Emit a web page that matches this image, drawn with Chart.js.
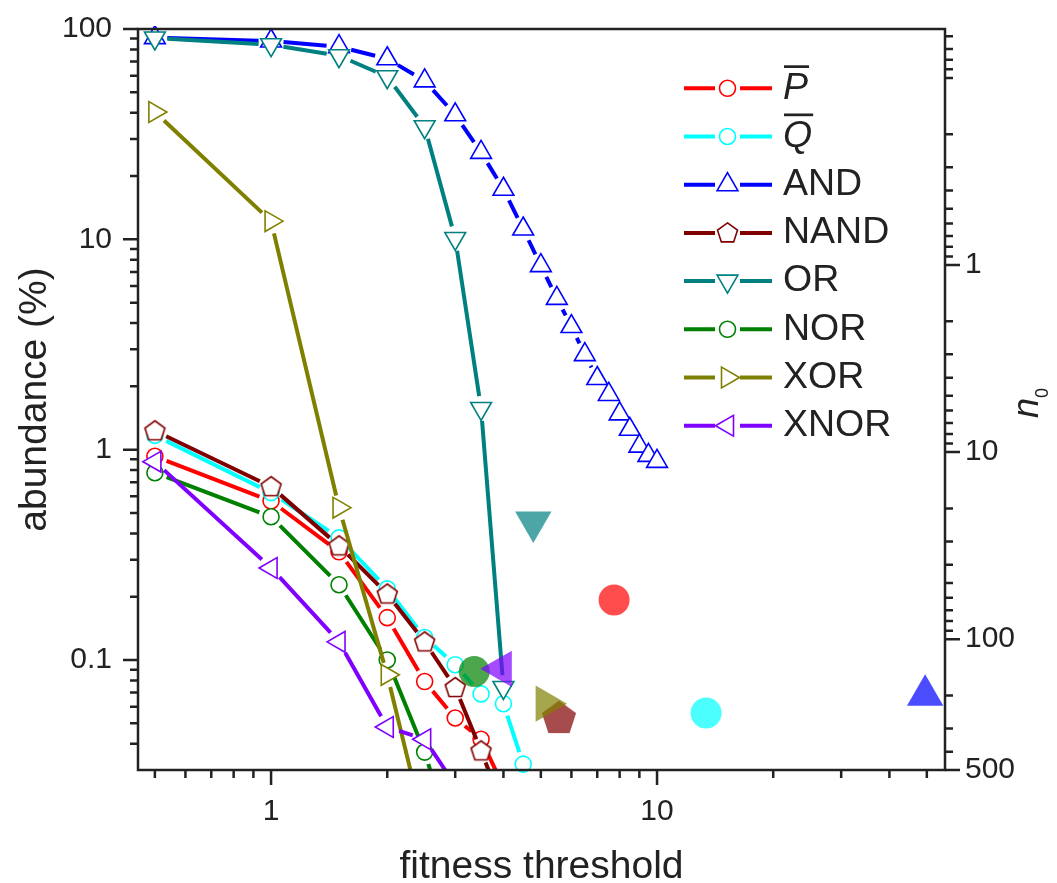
<!DOCTYPE html>
<html lang="en">
<head>
<meta charset="utf-8">
<title>abundance vs fitness threshold</title>
<script src="https://cdn.jsdelivr.net/npm/chart.js@4.4.1/dist/chart.umd.min.js"></script>
<style>
  html, body { margin: 0; padding: 0; background: #fff; }
  #grafico { display: block; }
</style>
</head>
<body>
<canvas id="grafico" width="1057" height="883"></canvas>
<script>
// abundancia (%) de cada función lógica según el umbral de fitness
const funciones = ['P\u0305', 'Q\u0305', 'AND', 'NAND', 'OR', 'NOR', 'XOR', 'XNOR'];
const umbral = [0.5, 1, 1.5, 2, 2.5, 3, 3.5, 4, 4.5, 5, 5.5, 6, 6.5, 7, 7.5, 8, 8.5, 9, 9.5, 10];

const abundP    = [0.93, 0.57, 0.327, 0.159, 0.079, 0.053, 0.042, 0.025];
const abundQ    = [1.17, 0.625, 0.381, 0.218, 0.128, 0.095, 0.069, 0.062, 0.032];
const abundAND  = [91, 87.7, 82.4, 72.2, 56.7, 39.1, 25.9, 17.3, 11.2, 7.5, 5.24, 3.85, 2.83, 2.18, 1.83, 1.48, 1.25, 1.04, 0.94, 0.88];
const abundNAND = [1.23, 0.667, 0.349, 0.206, 0.122, 0.074, 0.037, 0.0197];
const abundOR   = [90.6, 84.2, 74.6, 59.3, 34.3, 10.1, 1.57, 0.074];
const abundNOR  = [0.777, 0.48, 0.228, 0.1, 0.0365, 0.0123];
const abundXOR  = [40.3, 12.2, 0.53, 0.085, 0.0158];
const abundXNOR = [0.877, 0.274, 0.122, 0.048, 0.042, 0.0254];

// n0 de cada función (eje derecho) y el umbral donde se marca
const umbralN0  = [7.74, 13.4, 49.5, 5.57, 4.78, 3.36, 5.16, 3.95];
const valoresN0 = [61.7, 248, 199, 264, 23.6, 149, 221, 144];

// marcas con etiqueta
const marcasX  = [1, 10];
const marcasY  = [0.1, 1, 10, 100];
const marcasN0 = [1, 10, 100, 500];

const FUENTE = "'Liberation Sans', Arial, Helvetica, sans-serif";
const TEXTO = '#222';
const colores = ['#ff0000', '#00ffff', '#0000ff', '#800000', '#008080', '#008000', '#808000', '#8000ff'];
const formas  = ['circle', 'circle', 'triangle', 'pentagon', 'triangle', 'circle', 'triangle', 'triangle'];
const giros   = [0, 0, 0, 0, 180, 0, 90, 270];
const RADIO = {circle: 8, triangle: 12, pentagon: 10.5};
const RADIO_GRANDE = {circle: 15.5, triangle: 21, pentagon: 18};
const GROSOR = 4;      // grosor de las líneas
const HUECO = 12.5;    // espacio entre línea y símbolo

function translucido(hex) {
  const n = parseInt(hex.slice(1), 16);
  return `rgba(${n >> 16}, ${(n >> 8) & 255}, ${n & 255}, 0.7)`;
}

function trazarForma(ctx, forma, x, y, r, giro) {
  ctx.beginPath();
  if (forma === 'circle') { ctx.arc(x, y, r, 0, Math.PI * 2); return; }
  const lados = forma === 'pentagon' ? 5 : 3;
  for (let k = 0; k < lados; k++) {
    const ang = (giro + k * 360 / lados) * Math.PI / 180;
    const px = x + Math.sin(ang) * r, py = y - Math.cos(ang) * r;
    if (k) ctx.lineTo(px, py); else ctx.moveTo(px, py);
  }
  ctx.closePath();
}

// Chart.js no trae pentágono: se pasa como lienzo
function pentagono(r, borde, relleno, grosor) {
  const c = document.createElement('canvas');
  const lado = Math.ceil(2 * r + grosor + 4);
  c.width = c.height = lado;
  const g = c.getContext('2d');
  trazarForma(g, 'pentagon', lado / 2, lado / 2 + 0.5, r, 0);
  if (relleno) { g.fillStyle = relleno; g.fill(); }
  if (borde) { g.strokeStyle = borde; g.lineWidth = grosor; g.stroke(); }
  return c;
}

const abundancias = [abundP, abundQ, abundAND, abundNAND, abundOR, abundNOR, abundXOR, abundXNOR];

const datasets = funciones.map((nombre, i) => ({
  label: nombre,
  data: abundancias[i].map((v, j) => ({x: umbral[j], y: v})),
  yAxisID: 'y',
  showLine: false,
  hueco: HUECO,
  borderColor: colores[i],
  pointStyle: formas[i] === 'pentagon' ? pentagono(RADIO.pentagon, colores[i], '#fff', 1.6) : formas[i],
  pointRotation: giros[i],
  pointRadius: RADIO[formas[i]],
  pointBorderWidth: 1.6,
  pointBorderColor: colores[i],
  pointBackgroundColor: '#fff',
  clip: 3,
  order: -i
}));

datasets.push({
  label: 'n0',
  data: valoresN0.map((v, i) => ({x: umbralN0[i], y: v})),
  yAxisID: 'y2',
  showLine: false,
  pointStyle: formas.map((f, i) => f === 'pentagon' ? pentagono(RADIO_GRANDE.pentagon, null, translucido(colores[i]), 0) : f),
  pointRotation: giros,
  pointRadius: formas.map(f => RADIO_GRANDE[f]),
  pointBorderWidth: 0,
  pointBackgroundColor: colores.map(translucido),
  clip: false,
  order: -10
});

// líneas que se cortan antes de llegar a cada símbolo
const lineasConHueco = {
  id: 'lineasConHueco',
  beforeDatasetDraw(chart, args) {
    const ds = chart.data.datasets[args.index];
    if (!ds.hueco) return;
    const pts = args.meta.data;
    const {ctx, chartArea: a} = chart;
    ctx.save();
    ctx.beginPath();
    ctx.rect(a.left, a.top, a.right - a.left, a.bottom - a.top);
    ctx.clip();
    ctx.strokeStyle = ds.borderColor;
    ctx.lineWidth = GROSOR;
    ctx.beginPath();
    for (let i = 1; i < pts.length; i++) {
      const p = pts[i - 1], q = pts[i];
      const dx = q.x - p.x, dy = q.y - p.y, d = Math.hypot(dx, dy);
      if (d <= 2 * ds.hueco) continue;
      const ux = dx / d, uy = dy / d;
      ctx.moveTo(p.x + ux * ds.hueco, p.y + uy * ds.hueco);
      ctx.lineTo(q.x - ux * ds.hueco, q.y - uy * ds.hueco);
    }
    ctx.stroke();
    ctx.restore();
  }
};

function marcasMenores(min, max) {
  const v = [];
  for (let e = Math.floor(Math.log10(min)); e <= Math.ceil(Math.log10(max)); e++) {
    for (let m = 1; m <= 9; m++) {
      const val = m * Math.pow(10, e);
      if (val > min * 1.0001 && val < max * 0.9999) v.push(val);
    }
  }
  return v;
}

// marco, marcas de los ejes, títulos y leyenda
const decorado = {
  id: 'decorado',
  afterDraw(chart) {
    const {ctx, chartArea: a} = chart;
    const {x, y, y2} = chart.scales;
    ctx.save();
    ctx.strokeStyle = TEXTO;
    ctx.lineWidth = 2.5;
    ctx.strokeRect(a.left, a.top, a.right - a.left, a.bottom - a.top);

    ctx.beginPath();
    const abajo = (vals, largo) => vals.forEach(v => {
      const p = x.getPixelForValue(v); ctx.moveTo(p, a.bottom); ctx.lineTo(p, a.bottom + largo);
    });
    const izq = (vals, largo) => vals.forEach(v => {
      const p = y.getPixelForValue(v); ctx.moveTo(a.left - largo, p); ctx.lineTo(a.left, p);
    });
    const der = (vals, largo) => vals.forEach(v => {
      const p = y2.getPixelForValue(v); ctx.moveTo(a.right, p); ctx.lineTo(a.right + largo, p);
    });
    abajo(marcasMenores(x.min, x.max), 8);
    abajo(marcasX, 15);
    izq(marcasMenores(y.min, y.max), 8);
    izq(marcasY, 15);
    der(marcasMenores(y2.min, y2.max), 8);
    der(marcasN0, 15);
    ctx.stroke();

    // títulos de los ejes
    ctx.fillStyle = TEXTO;
    ctx.font = `39px ${FUENTE}`;
    ctx.textAlign = 'center';
    ctx.textBaseline = 'alphabetic';
    ctx.fillText('fitness threshold', (a.left + a.right) / 2, 878);
    ctx.save();
    ctx.translate(46, (a.top + a.bottom) / 2);
    ctx.rotate(-Math.PI / 2);
    ctx.fillText('abundance (%)', 0, 0);
    ctx.restore();

    ctx.save();
    ctx.translate(1038, 403);
    ctx.rotate(-Math.PI / 2);
    ctx.textAlign = 'left';
    ctx.font = `italic 36px ${FUENTE}`;
    const wn = ctx.measureText('n').width;
    ctx.font = `18px ${FUENTE}`;
    const w0 = ctx.measureText('0').width;
    const x0 = -(wn + w0) / 2;
    ctx.font = `italic 36px ${FUENTE}`;
    ctx.fillText('n', x0, 0);
    ctx.font = `18px ${FUENTE}`;
    ctx.fillText('0', x0 + wn, 10);
    ctx.restore();

    // leyenda
    const xLinea0 = 684, xLinea1 = 772, xSimbolo = 727.5, xTexto = 783;
    ctx.textAlign = 'left';
    ctx.textBaseline = 'middle';
    funciones.forEach((nombre, i) => {
      const yFila = 88.3 + i * 48.2;
      ctx.strokeStyle = colores[i];
      ctx.lineWidth = GROSOR;
      ctx.beginPath();
      ctx.moveTo(xLinea0, yFila); ctx.lineTo(xSimbolo - HUECO, yFila);
      ctx.moveTo(xSimbolo + HUECO, yFila); ctx.lineTo(xLinea1, yFila);
      ctx.stroke();
      trazarForma(ctx, formas[i], xSimbolo, yFila + (formas[i] === 'pentagon' ? 0.5 : 0), RADIO[formas[i]], giros[i]);
      ctx.fillStyle = '#fff';
      ctx.fill();
      ctx.lineWidth = 1.6;
      ctx.stroke();

      const barra = nombre.includes('\u0305');
      const texto = nombre.replace('\u0305', '');
      ctx.fillStyle = TEXTO;
      ctx.font = `${barra ? 'italic ' : ''}37.5px ${FUENTE}`;
      ctx.fillText(texto, xTexto, yFila);
      if (barra) {
        const w = ctx.measureText(texto).width;
        ctx.fillRect(xTexto + 1, yFila - 23, w, 2.7);
      }
    });
    ctx.restore();
  }
};

const fuenteTicks = {family: FUENTE, size: 30};
const etiqueta = v => String(v);
// sin relleno extra de las etiquetas, el área del gráfico queda fija
const sinRelleno = s => { s.paddingTop = 0; s.paddingBottom = 0; s.paddingLeft = 0; s.paddingRight = 0; };

new Chart(document.getElementById('grafico'), {
  type: 'line',
  data: {datasets: datasets},
  options: {
    responsive: false,
    animation: false,
    devicePixelRatio: 1,
    events: [],
    layout: {padding: {top: 29, left: 0, right: 0, bottom: 0}},
    plugins: {legend: {display: false}, tooltip: {enabled: false}},
    scales: {
      x: {
        type: 'logarithmic', position: 'bottom', bounds: 'data',
        min: 0.4521, max: 55.73,
        grid: {display: false, drawTicks: false}, border: {display: false},
        afterBuildTicks: s => { s.ticks = marcasX.map(v => ({value: v})); },
        afterFit: s => { s.height = 113; sinRelleno(s); },
        ticks: {font: fuenteTicks, color: TEXTO, padding: 24, autoSkip: false, maxRotation: 0, minRotation: 0, callback: etiqueta}
      },
      y: {
        type: 'logarithmic', position: 'left', bounds: 'data',
        min: 0.03, max: 100,
        grid: {display: false, drawTicks: false}, border: {display: false},
        afterBuildTicks: s => { s.ticks = marcasY.map(v => ({value: v})); },
        afterFit: s => { s.width = 138; sinRelleno(s); },
        ticks: {font: fuenteTicks, color: TEXTO, padding: 26, autoSkip: false, callback: etiqueta}
      },
      y2: {
        type: 'logarithmic', position: 'right', bounds: 'data', reverse: true,
        min: 0.0548, max: 500,
        grid: {display: false, drawTicks: false}, border: {display: false},
        afterBuildTicks: s => { s.ticks = marcasN0.map(v => ({value: v})); },
        afterFit: s => { s.width = 112; sinRelleno(s); },
        ticks: {font: fuenteTicks, color: TEXTO, padding: 20, autoSkip: false, callback: etiqueta}
      }
    }
  },
  plugins: [lineasConHueco, decorado]
});
</script>
</body>
</html>
